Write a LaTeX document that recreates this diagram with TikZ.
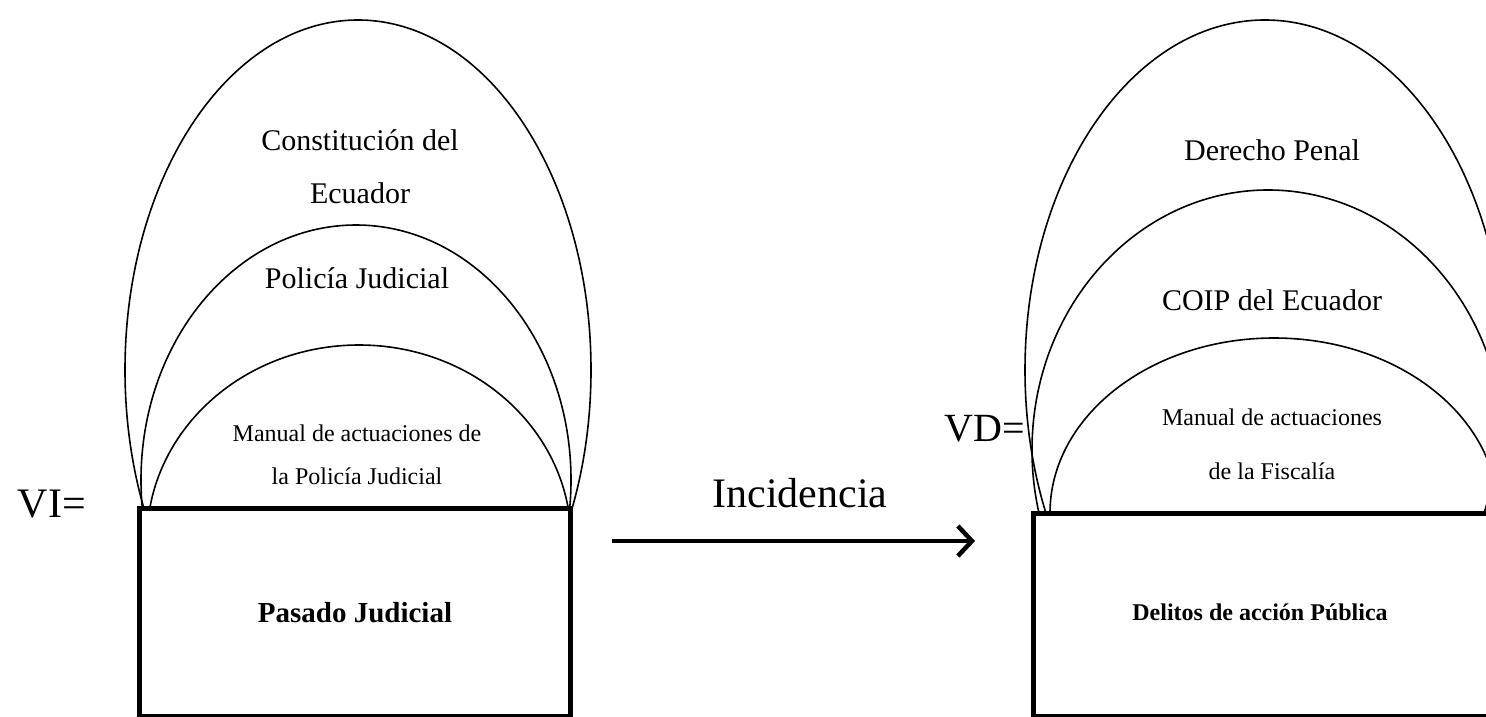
\documentclass[tikz,border=0pt]{standalone}
\usepackage{fontspec}
\setmainfont{Liberation Serif}
\usetikzlibrary{arrows.meta}
\begin{document}
\begin{tikzpicture}[x=1bp,y=-1bp,
  arcline/.style={line width=1.6bp},
  boxnode/.style={draw, line width=5bp, inner sep=0pt},
  biglbl/.style={inner sep=0pt, anchor=base, font=\fontsize{30bp}{36bp}\selectfont},
  smalllbl/.style={inner sep=0pt, anchor=base, font=\fontsize{24bp}{29bp}\selectfont},
  varlbl/.style={inner sep=0pt, anchor=base, font=\fontsize{42bp}{50bp}\selectfont},
  boldlbl/.style={inner sep=0pt, anchor=base, font=\bfseries\fontsize{29bp}{35bp}\selectfont},
  arrowline/.style={line width=4.5bp, -{Straight Barb[length=14bp,width=30bp,line width=4.5bp]}}]
\useasboundingbox (0,0) rectangle (1486,717);
% left arcs
\begin{scope}
  \clip (0,0) rectangle (740,508);
  \draw[arcline] (358,370) ellipse [x radius=233bp, y radius=350bp];
  \draw[arcline] (356,480) ellipse [x radius=215bp, y radius=255bp];
  \draw[arcline] (359,540) ellipse [x radius=212bp, y radius=195bp];
\end{scope}
% right arcs
\begin{scope}
  \clip (760,0) rectangle (1486,513);
  \draw[arcline] (1265,370) ellipse [x radius=240bp, y radius=350bp];
  \draw[arcline] (1268,450) ellipse [x radius=236bp, y radius=260bp];
  \draw[arcline] (1274,513) ellipse [x radius=224bp, y radius=175bp];
\end{scope}
% boxes
\node[boxnode, minimum width=430bp, minimum height=208bp] (leftbox) at (355,612) {};
\node[boxnode, minimum width=480bp, minimum height=203bp] (rightbox) at (1273,614.5) {};
% labels left
\node[biglbl] (c1) at (360,150) {Constitución del};
\node[biglbl] (c2) at (360,203) {Ecuador};
\node[biglbl] (pj) at (357,288) {Policía Judicial};
\node[smalllbl] (m1) at (357,441) {Manual de actuaciones de};
\node[smalllbl] (m2) at (357,484) {la Policía Judicial};
\node[boldlbl] (pasado) at (355,622) {Pasado Judicial};
\node[varlbl] (vi) at (52,517) {VI=};
% labels right
\node[biglbl] (dp) at (1272,160) {Derecho Penal};
\node[biglbl] (coip) at (1272,310) {COIP del Ecuador};
\node[smalllbl] (f1) at (1272,425) {Manual de actuaciones};
\node[smalllbl] (f2) at (1272,479) {de la Fiscalía};
\node[boldlbl, font=\bfseries\fontsize{24bp}{29bp}\selectfont] (delitos) at (1260,620) {Delitos de acción Pública};
\node[varlbl, font=\fontsize{40bp}{48bp}\selectfont] (vd) at (985,441) {VD=};
% arrow
\node[varlbl] (inc) at (800,507) {Incidencia};
\coordinate (a1) at (612,541);
\coordinate (a2) at (975,541);
\draw[arrowline] (a1) -- (a2);
\end{tikzpicture}
\end{document}
